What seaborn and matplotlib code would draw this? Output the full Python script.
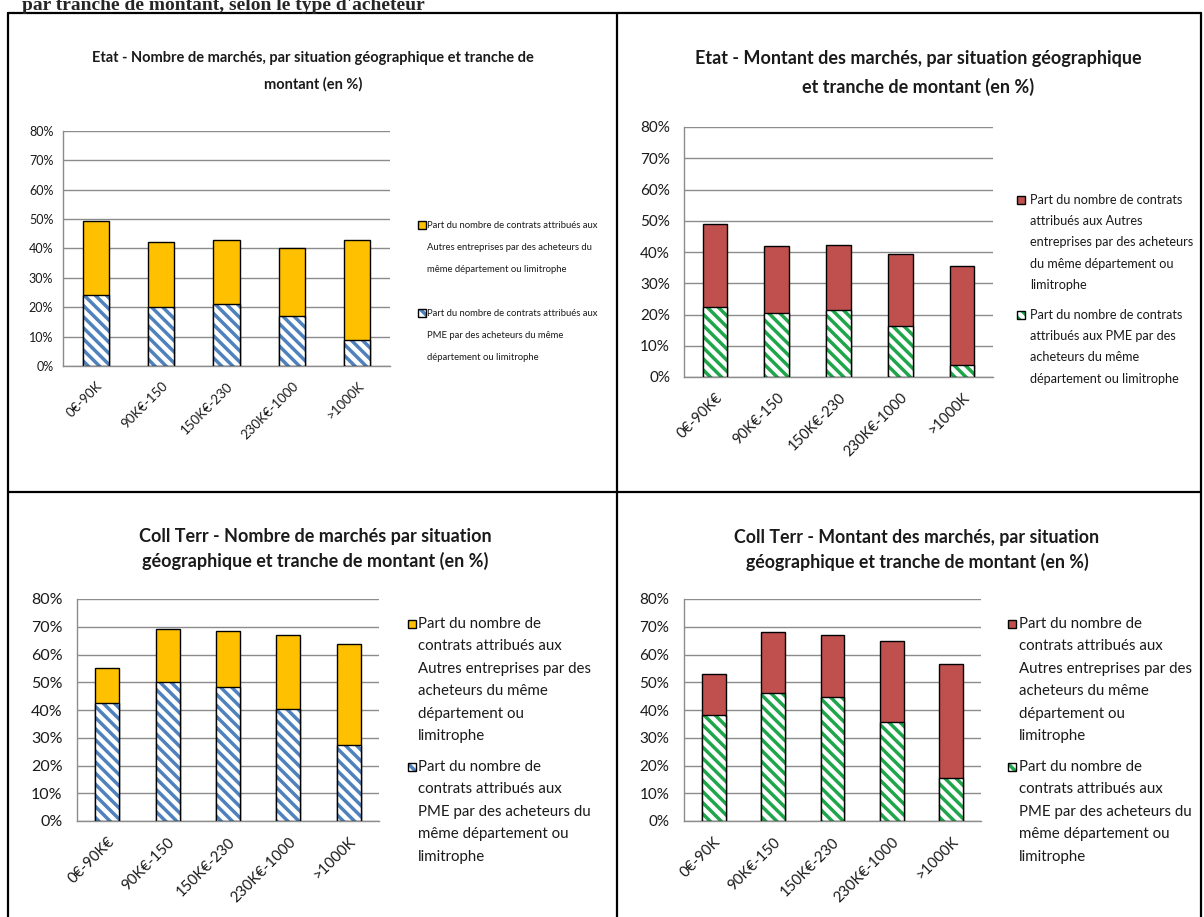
import matplotlib
matplotlib.use('Agg')
import matplotlib.pyplot as plt
from matplotlib.patches import Rectangle
from matplotlib.lines import Line2D
import seaborn as sns
from matplotlib.ticker import PercentFormatter

# --- data (shares, in %) ---
tranches_a = ['0€-90K', '90K€-150', '150K€-230', '230K€-1000', '>1000K']
tranches_b = ['0€-90K€', '90K€-150', '150K€-230', '230K€-1000', '>1000K']

etat_nb_pme = [24.0, 20.0, 21.0, 17.0, 9.0]
etat_nb_total = [49.5, 42.3, 42.9, 40.1, 42.9]

etat_mt_pme = [22.5, 20.5, 21.5, 16.2, 4.0]
etat_mt_total = [49.0, 41.8, 42.2, 39.3, 35.4]

ct_nb_pme = [42.5, 50.0, 48.3, 40.5, 27.3]
ct_nb_total = [55.0, 69.2, 68.5, 67.0, 63.7]

ct_mt_pme = [38.3, 46.3, 44.7, 35.6, 15.5]
ct_mt_total = [53.0, 68.0, 67.0, 64.7, 56.5]

ORANGE = '#FFC000'
RED = '#C0504D'
BLUE = '#4F81BD'
GREEN = '#1FA64A'
GRID = '#8C8C8C'
TXT = '#1a1a1a'

sns.set_style('white')
plt.rcParams['font.family'] = ['Lato', 'DejaVu Sans']
plt.rcParams['hatch.linewidth'] = 2.5

HATCH = '\\' * 3

fig = plt.figure(figsize=(12.04, 9.17), dpi=100)
W, H = 1204.0, 917.0


def fx(px):
    return px / W


def fy(py):
    return 1 - py / H


def draw_legend(x_handle, x_text, entries, colors, fontsize, line_px):
    # entries: list of (first line centre y, list of lines)
    s = 8
    for (y0, lines), (fc, hc) in zip(entries, colors):
        xy = (fx(x_handle), fy(y0 + s / 2))
        if hc is None:
            fig.add_artist(Rectangle(xy, s / W, s / H, facecolor=fc, edgecolor='black',
                                     linewidth=1, transform=fig.transFigure))
        else:
            fig.add_artist(Rectangle(xy, s / W, s / H, facecolor='white', edgecolor=hc,
                                     linewidth=0, hatch=HATCH, transform=fig.transFigure))
            fig.add_artist(Rectangle(xy, s / W, s / H, fill=False, edgecolor='black',
                                     linewidth=1, transform=fig.transFigure))
        for i, line in enumerate(lines):
            fig.text(fx(x_text), fy(y0 + i * line_px), line, ha='left', va='center',
                     fontsize=fontsize, color=TXT)


def draw_panel(rect, cats, pme, total, top_color, hatch_color, tick_fs, ypad, xtick_fs):
    x0, y0, x1, y1 = rect
    ax = fig.add_axes([fx(x0), fy(y1), fx(x1 - x0), (y1 - y0) / H])
    sns.barplot(x=cats, y=total, color=top_color, width=0.4, ax=ax,
                saturation=1, edgecolor='black', linewidth=1)
    n_top = len(ax.patches)
    sns.barplot(x=cats, y=pme, color='white', width=0.4, ax=ax,
                saturation=1, edgecolor=hatch_color, linewidth=0, hatch=HATCH)
    for p in ax.patches[n_top:]:
        p.set_facecolor('white')
        p.set_edgecolor(hatch_color)
        ax.add_patch(Rectangle(p.get_xy(), p.get_width(), p.get_height(),
                               fill=False, edgecolor='black', linewidth=1, zorder=3))
    ax.set_ylim(0, 80)
    ax.set_xlim(-0.5, len(cats) - 0.5)
    ax.set_yticks(range(0, 81, 10))
    ax.yaxis.set_major_formatter(PercentFormatter(decimals=0))
    ax.grid(axis='y', color=GRID, linewidth=1)
    ax.set_axisbelow(True)
    for s in ['top', 'right']:
        ax.spines[s].set_visible(False)
    for s in ['left', 'bottom']:
        ax.spines[s].set_color(GRID)
        ax.spines[s].set_linewidth(1)
    ax.set_xticks(range(len(cats)))
    ax.set_xticklabels(cats, rotation=45, ha='right', rotation_mode='anchor',
                       fontsize=xtick_fs, color=TXT)
    ax.set_xticks([i - 0.5 for i in range(len(cats) + 1)], minor=True)
    ax.tick_params(axis='x', which='major', length=0, pad=10)
    ax.tick_params(axis='x', which='minor', length=5, color=GRID, direction='out')
    ax.tick_params(axis='y', length=0, pad=ypad, labelsize=tick_fs, labelcolor=TXT)
    ax.set_xlabel('')
    ax.set_ylabel('')
    return ax


draw_panel((63, 131, 390, 366), tranches_a, etat_nb_pme, etat_nb_total, ORANGE, BLUE, 9, 7, 9.5)
draw_panel((684, 127, 993, 377), tranches_b, etat_mt_pme, etat_mt_total, RED, GREEN, 11, 10, 10.5)
draw_panel((77, 599, 379, 821), tranches_b, ct_nb_pme, ct_nb_total, ORANGE, BLUE, 11.5, 10.5, 10.8)
draw_panel((684, 599, 981, 821), tranches_a, ct_mt_pme, ct_mt_total, RED, GREEN, 11, 10.5, 10.8)

# legends
draw_legend(418, 427,
            [(225, ['Part du nombre de contrats attribués aux',
                    'Autres entreprises par des acheteurs du',
                    'même département ou limitrophe']),
             (313, ['Part du nombre de contrats attribués aux',
                    'PME par des acheteurs du même',
                    'département ou limitrophe'])],
            [(ORANGE, None), ('white', BLUE)], 6.8, 22)
draw_legend(1017, 1030,
            [(200, ['Part du nombre de contrats', 'attribués aux Autres',
                    'entreprises par des acheteurs', 'du même département ou',
                    'limitrophe']),
             (315, ['Part du nombre de contrats', 'attribués aux PME par des',
                    'acheteurs du même', 'département ou limitrophe'])],
            [(RED, None), ('white', GREEN)], 9.1, 21.2)
lab_b1 = ['Part du nombre de', 'contrats attribués aux', 'Autres entreprises par des',
          'acheteurs du même', 'département ou', 'limitrophe']
lab_b2 = ['Part du nombre de', 'contrats attribués aux', 'PME par des acheteurs du',
          'même département ou', 'limitrophe']
draw_legend(408, 418, [(624, lab_b1), (767, lab_b2)],
            [(ORANGE, None), ('white', BLUE)], 10.8, 22.4)
draw_legend(1008, 1019, [(624, lab_b1), (767, lab_b2)],
            [(RED, None), ('white', GREEN)], 10.8, 22.4)

# panel titles
fig.text(fx(313), fy(71.5), 'Etat - Nombre de marchés, par situation géographique et tranche de\nmontant (en %)',
         ha='center', va='center', fontsize=10.5, fontweight='bold', linespacing=2.1, color=TXT)
fig.text(fx(918), fy(73), 'Etat - Montant des marchés, par situation géographique\net tranche de montant (en %)',
         ha='center', va='center', fontsize=13, fontweight='bold', linespacing=1.7, color=TXT)
fig.text(fx(315), fy(549), 'Coll Terr - Nombre de marchés par situation\ngéographique et tranche de montant (en %)',
         ha='center', va='center', fontsize=13, fontweight='bold', linespacing=1.5, color=TXT)
fig.text(fx(917), fy(550), 'Coll Terr - Montant des marchés, par situation\ngéographique et tranche de montant (en %)',
         ha='center', va='center', fontsize=12.8, fontweight='bold', linespacing=1.45, color=TXT)

# cut-off document heading
fig.text(fx(22), fy(9.5), "par tranche de montant, selon le type d'acheteur",
         ha='left', va='baseline', fontsize=14, fontweight='bold',
         family=['Liberation Serif', 'DejaVu Serif'])

# table frame
lw = 1.6
for (xa, ya, xb, yb) in [(8, 13, 1201, 13), (8, 492, 1201, 492), (8, 13, 8, 917),
                         (617, 13, 617, 917), (1201, 13, 1201, 917)]:
    fig.add_artist(Line2D([fx(xa), fx(xb)], [fy(ya), fy(yb)], color='black', linewidth=lw))

fig.savefig('out.png', dpi=100)
